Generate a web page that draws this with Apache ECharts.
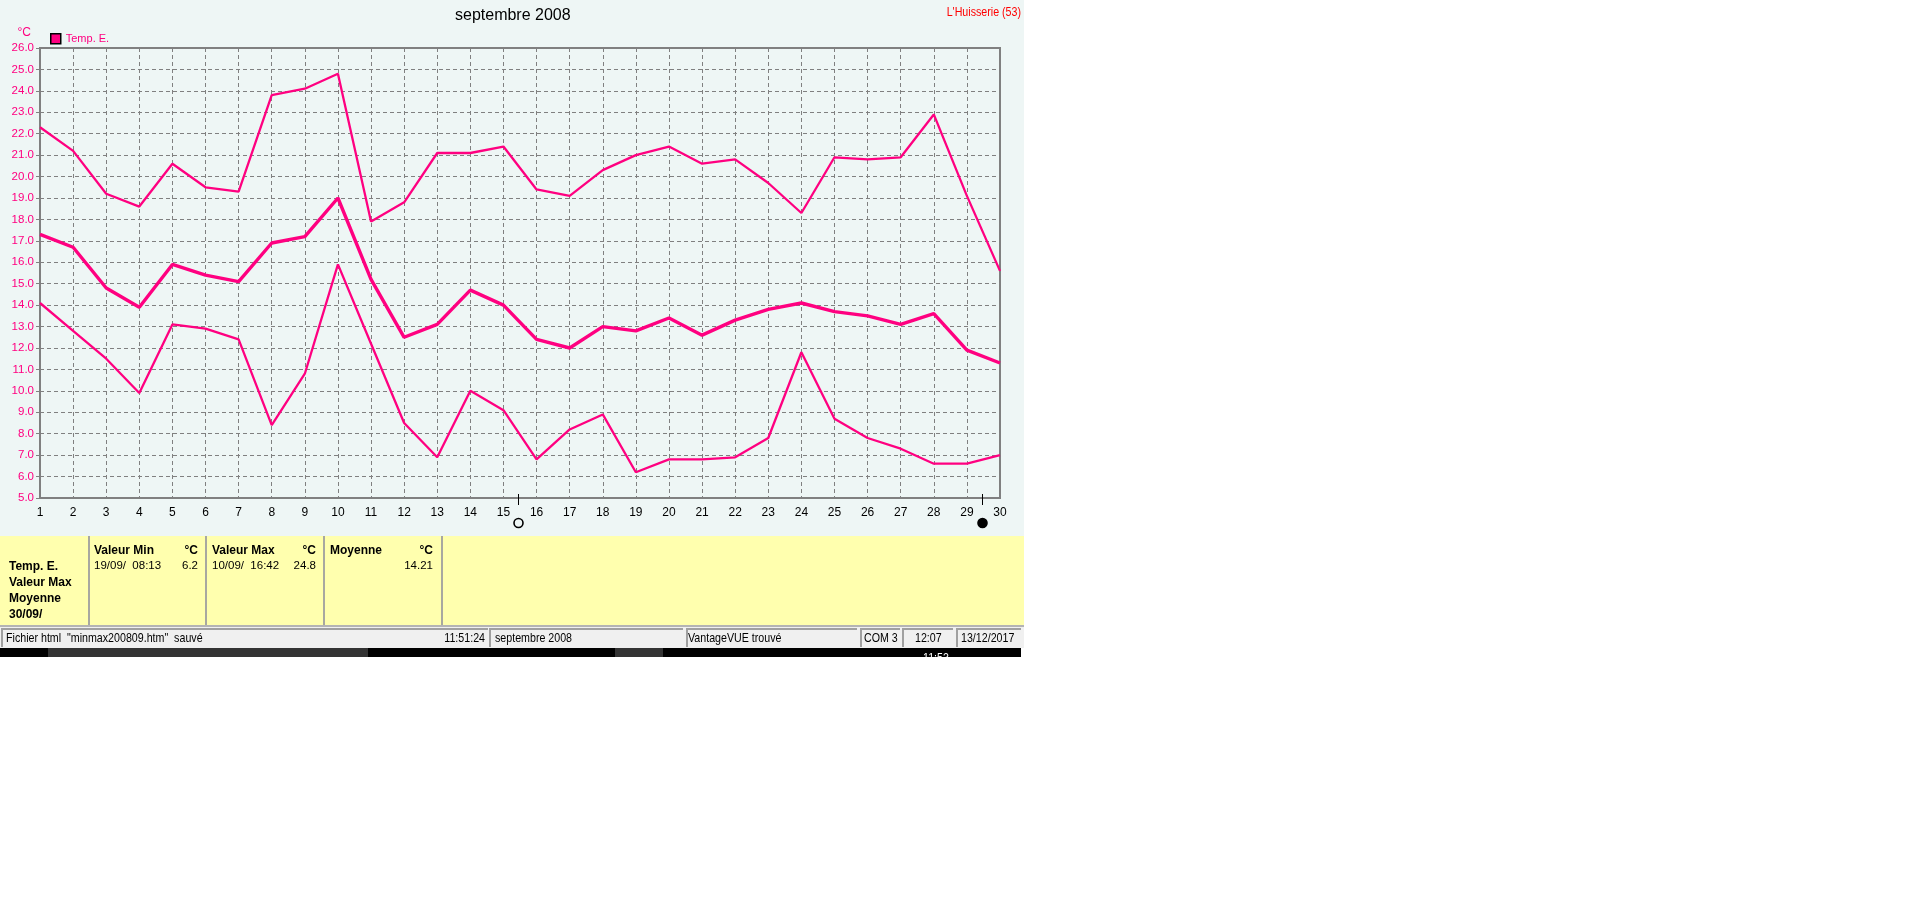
<!DOCTYPE html>
<html lang="fr">
<head>
<meta charset="utf-8">
<title>septembre 2008</title>
<style>html,body{margin:0;padding:0;background:#fff}#chart{width:1920px;height:901px}</style>
<script src="https://cdn.jsdelivr.net/npm/echarts@6/dist/echarts.min.js"></script>
</head>
<body>
<div id="chart"></div>
<script>
const days = [1,2,3,4,5,6,7,8,9,10,11,12,13,14,15,16,17,18,19,20,21,22,23,24,25,26,27,28,29,30];
const tempMax = [22.3,21.2,19.2,18.6,20.6,19.5,19.3,23.8,24.1,24.8,17.9,18.8,21.1,21.1,21.4,19.4,19.1,20.3,21.0,21.4,20.6,20.8,19.7,18.3,20.9,20.8,20.9,22.9,19.1,15.6];
const tempMean = [17.3,16.7,14.8,13.9,15.9,15.4,15.1,16.9,17.2,19.0,15.2,12.5,13.1,14.7,14.0,12.4,12.0,13.0,12.8,13.4,12.6,13.3,13.8,14.1,13.7,13.5,13.1,13.6,11.9,11.3];
const tempMin = [14.1,12.8,11.5,9.9,13.1,12.9,12.4,8.4,10.8,15.9,12.2,8.5,6.9,10.0,9.1,6.8,8.2,8.9,6.2,6.8,6.8,6.9,7.8,11.8,8.7,7.8,7.3,6.6,6.6,7.0];
const moonDays = [15.45, 29.45];
const moonFills = ['#EEF6F5', '#000000'];
const seriesName = 'Temp. E.';
const pink = '#FF0080';
const uiFont = '"Liberation Sans", Arial, sans-serif';

const pairs = vals => days.map((d, i) => [d, vals[i]]);
const lineSeries = (vals, width) => ({
  name: seriesName, type: 'line', data: pairs(vals), showSymbol: false, smooth: false,
  lineStyle: {color: pink, width}, itemStyle: {color: pink}, emphasis: {disabled: true}
});

const rect = (x, y, w, h, fill, z = -1) => ({type: 'rect', silent: true, z, shape: {x, y, width: w, height: h}, style: {fill}});
const txt = (x, y, text, o = {}) => ({type: 'text', silent: true, z: o.z || 5, x, y,
  scaleX: (o.bold || o.plain) ? 1 : 0.82,
  style: {
    text, fill: o.fill || '#000',
    font: o.bold ? 'bold 12px ' + uiFont : (o.plain ? '11.5px ' + uiFont : '13px ' + uiFont),
    textAlign: o.align || 'left', textVerticalAlign: 'middle'}});
const sunken = (x, y, w, h) => [
  rect(x, y, w, h, '#A0A0A0', 1),
  rect(x + 2, y + 2, w - 2, h - 2, '#F0F0F0', 2)
];

const panels = [
  rect(0, 0, 1024, 536, '#EEF6F5'),
  rect(0, 536, 1024, 89, '#FFFFAE'),
  rect(88, 536, 2, 89, '#A8A8A0', 1), rect(205, 536, 2, 89, '#A8A8A0', 1),
  rect(323, 536, 2, 89, '#A8A8A0', 1), rect(441, 536, 2, 89, '#A8A8A0', 1),
  rect(0, 625, 1024, 23, '#F0F0F0'),
  rect(0, 625, 1024, 2, '#B4B4B4', 0),
  ...sunken(1, 628, 487, 19), ...sunken(489, 628, 194, 19), ...sunken(686, 628, 171, 19),
  ...sunken(860, 628, 40, 19), ...sunken(902, 628, 51, 19), ...sunken(956, 628, 65, 19),
  rect(0, 648, 1021, 9, '#000000', 1),
  rect(48, 648, 320, 9, '#333333', 2), rect(615, 648, 48, 9, '#333333', 2),
  txt(923, 658, '11:53', {fill: '#fff', z: 3}),
  rect(0, 657, 1024, 12, '#FFFFFF', 4),

  txt(1021, 12, "L'Huisserie (53)", {fill: '#FF0000', align: 'right'}),

  txt(9, 567, 'Temp. E.', {bold: true}), txt(9, 583, 'Valeur Max', {bold: true}),
  txt(9, 599, 'Moyenne', {bold: true}), txt(9, 615, '30/09/', {bold: true}),
  txt(94, 551, 'Valeur Min', {bold: true}), txt(198, 551, '°C', {bold: true, align: 'right'}),
  txt(94, 566, '19/09/  08:13', {plain: true}), txt(198, 566, '6.2', {plain: true, align: 'right'}),
  txt(212, 551, 'Valeur Max', {bold: true}), txt(316, 551, '°C', {bold: true, align: 'right'}),
  txt(212, 566, '10/09/  16:42', {plain: true}), txt(316, 566, '24.8', {plain: true, align: 'right'}),
  txt(330, 551, 'Moyenne', {bold: true}), txt(433, 551, '°C', {bold: true, align: 'right'}),
  txt(433, 566, '14.21', {plain: true, align: 'right'}),

  txt(6, 638, 'Fichier html  "minmax200809.htm"  sauvé'), txt(485, 638, '11:51:24', {align: 'right'}),
  txt(495, 638, 'septembre 2008'), txt(688, 638, 'VantageVUE trouvé'),
  txt(864, 638, 'COM 3'), txt(915, 638, '12:07'), txt(961, 638, '13/12/2017')
];

const chart = echarts.init(document.getElementById('chart'), null, {renderer: 'canvas'});
chart.setOption({
  animation: false,
  backgroundColor: '#FFFFFF',
  textStyle: {fontFamily: uiFont},
  title: {text: 'septembre 2008', left: 455, top: 8, padding: 0,
    textStyle: {fontSize: 16, fontWeight: 'normal', color: '#000', fontFamily: uiFont}},
  legend: {left: 50, top: 33, padding: 0, itemWidth: 10, itemHeight: 10, itemGap: 5,
    data: [{name: seriesName, icon: 'rect', itemStyle: {color: pink, borderColor: '#000', borderWidth: 1.5}}],
    textStyle: {color: pink, fontSize: 11, fontFamily: uiFont}, selectedMode: false},
  grid: {left: 40, top: 48, width: 960, height: 450, show: true, borderColor: '#808080', borderWidth: 2, backgroundColor: 'transparent'},
  xAxis: {type: 'value', min: 1, max: 30, interval: 1,
    axisLine: {show: false}, axisTick: {show: false},
    axisLabel: {color: '#000', fontSize: 12, margin: 9, fontFamily: uiFont, formatter: v => String(v)},
    splitLine: {show: true, showMinLine: false, showMaxLine: false, lineStyle: {color: '#808080', width: 1, type: [4, 3]}}},
  yAxis: {type: 'value', min: 5, max: 26, interval: 1,
    name: '°C', nameLocation: 'end', nameGap: 9,
    nameTextStyle: {color: pink, fontSize: 12, align: 'right', padding: [0, 9, 0, 0], fontFamily: uiFont},
    axisLine: {show: false}, axisTick: {show: true, length: 4, lineStyle: {color: '#808080', width: 1}},
    axisLabel: {color: pink, fontSize: 11.5, margin: 6, padding: [4, 0, 0, 0], fontFamily: uiFont, formatter: v => v.toFixed(1)},
    splitLine: {show: true, showMinLine: false, showMaxLine: false, lineStyle: {color: '#808080', width: 1, type: [4, 3]}}},
  series: [lineSeries(tempMax, 2.3), lineSeries(tempMean, 3.4), lineSeries(tempMin, 2.3)],
  graphic: {elements: panels}
});

const moonMarks = [];
moonDays.forEach((d, i) => {
  const x = Math.round(chart.convertToPixel({xAxisIndex: 0}, d));
  moonMarks.push({type: 'line', silent: true, z: 6, shape: {x1: x + 0.5, y1: 494, x2: x + 0.5, y2: 505}, style: {stroke: '#000', lineWidth: 1}});
  moonMarks.push({type: 'circle', silent: true, z: 6, shape: {cx: x + 0.5, cy: 523, r: 4.5}, style: {fill: moonFills[i], stroke: '#000', lineWidth: 1.6}});
});
chart.setOption({graphic: {elements: panels.concat(moonMarks)}});
</script>
</body>
</html>
